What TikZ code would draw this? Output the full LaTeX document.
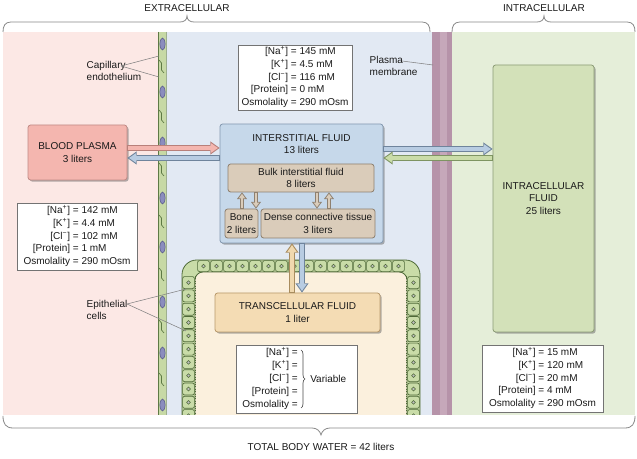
\documentclass[tikz,border=0pt]{standalone}
\usepackage{fontspec}
\setmainfont{Liberation Sans}
\usetikzlibrary{fit,shadows,arrows.meta,calc,decorations.pathreplacing}

\definecolor{txt}{HTML}{1A1A1A}
\definecolor{bgpink}{HTML}{FCE8E5}
\definecolor{bgblue}{HTML}{E2E9F3}
\definecolor{bggreen}{HTML}{E5EED9}
\definecolor{membr}{HTML}{B693A9}
\definecolor{membrlt}{HTML}{C6A8BA}
\definecolor{endo}{HTML}{C7D9A5}
\definecolor{endoln}{HTML}{5E7A45}
\definecolor{nuc}{HTML}{8B8DBE}
\definecolor{nucln}{HTML}{5A5C8A}
\definecolor{epi}{HTML}{C9DCA8}
\definecolor{epiln}{HTML}{4F6A38}
\definecolor{cream}{HTML}{FBF0DD}
\definecolor{bpfill}{HTML}{F4B6AF}
\definecolor{bpline}{HTML}{C08A85}
\definecolor{isfill}{HTML}{C6D8EA}
\definecolor{isline}{HTML}{8499B0}
\definecolor{tanfill}{HTML}{DACCBA}
\definecolor{tanline}{HTML}{8E8070}
\definecolor{tcfill}{HTML}{F4DCB4}
\definecolor{tcline}{HTML}{B8996B}
\definecolor{icfill}{HTML}{D3E1B9}
\definecolor{icline}{HTML}{8C9C76}
\definecolor{grline}{HTML}{8A8A8A}
\definecolor{bluearr}{HTML}{B8CCE2}
\definecolor{bluearrln}{HTML}{6F849C}
\definecolor{greenarr}{HTML}{CADCA8}
\definecolor{greenarrln}{HTML}{7E9462}
\definecolor{pinkarr}{HTML}{F4B6AF}
\definecolor{pinkarrln}{HTML}{B8807A}
\definecolor{tanarr}{HTML}{F0D8AE}
\definecolor{tanarrln}{HTML}{A88C5E}

\begin{document}
\begin{tikzpicture}[x=0.75pt,y=-0.75pt,
  every node/.style={font=\fontsize{7.5}{9.6}\selectfont, text=txt},
  bigbox/.style 2 args={fill=#1, draw=#2, line width=0.6pt, rounded corners=2pt, inner sep=0pt, align=center,
     drop shadow={shadow xshift=1.2pt, shadow yshift=-1.2pt, fill=black!60, opacity=0.5}},
  subbox/.style={fill=tanfill, draw=tanline, line width=0.6pt, rounded corners=2pt, inner sep=0pt, align=center},
  ionbox/.style={fill=white, draw=black!55, line width=0.5pt, inner sep=0pt},
  fat/.style 2 args={draw=#2, line width=4.5pt, -{Triangle[length=7pt,width=10pt,line width=0pt]},
     postaction={draw=#1, line width=2.8pt, shorten >=1.3pt, shorten <=0.6pt, -{Triangle[length=5pt,width=7pt,line width=0pt]}}},
  thin/.style 2 args={draw=#2, line width=3pt, -{Triangle[length=5pt,width=7.5pt,line width=0pt]},
     postaction={draw=#1, line width=1.6pt, shorten >=1.1pt, shorten <=0.6pt, -{Triangle[length=3.4pt,width=5pt,line width=0pt]}}},
  leader/.style={draw=black!50, line width=0.4pt},
  bracel/.style={draw=grline, line width=0.6pt},
  cell/.style={fill=epi, draw=epiln, line width=0.5pt, rounded corners=1.5pt},
  cnuc/.style={fill=black!25, draw=epiln, line width=0.4pt}
]
\useasboundingbox (0,0) rectangle (637,459);
\fill[white] (0,0) rectangle (637,459);

% backgrounds
\fill[bgpink] (3,32) rectangle (160,415);
\fill[bgblue] (160,32) rectangle (432,415);
\fill[membr] (432,32) rectangle (452,415);
\fill[membrlt] (440,32) rectangle (447,415);
\fill[bggreen] (452,32) rectangle (635,415);

% capillary endothelium strip
\fill[endo] (158,32) rectangle (167,415);
\draw[endoln, line width=0.6pt] (158.5,32) -- (158.5,415);
\draw[endoln!60, line width=0.4pt] (166.5,32) -- (166.5,415);
\foreach \y in {67,117,170,222,275,327,380} {
  \draw[endoln, line width=0.5pt] (159,\y-7) -- (161.5,\y-4) -- (161.5,\y+3) -- (164,\y+6);
}
\foreach \y in {44,92,143,198,247,302,353,405} {
  \filldraw[fill=nuc, draw=nucln, line width=0.4pt] (162.5,\y) ellipse (2.6 and 6);
}

% epithelium and transcellular space
\begin{scope}
\clip (0,0) rectangle (637,415);
\filldraw[fill=epi, draw=epiln, line width=0.6pt, rounded corners=11pt] (182,430) -- (182,260) -- (420,260) -- (420,430) -- cycle;
\filldraw[fill=cream, draw=epiln, line width=0.6pt, rounded corners=6pt] (195,430) -- (195,272) -- (407,272) -- (407,430) -- cycle;
\foreach \i in {0,...,15} {
  \pgfmathsetmacro\xx{197+13*\i}
  \path[cell] (\xx+0.6,260.6) rectangle (\xx+12.4,271.6);
  \path[cnuc] (\xx+6.5,266.1) circle (1.9);
}
\foreach \j in {0,...,10} {
  \pgfmathsetmacro\yy{276+13.3*\j}
  \path[cell] (182.6,\yy+0.6) rectangle (194.4,\yy+12.6);
  \path[cnuc] (188.5,\yy+6.6) circle (1.9);
  \path[cell] (407.6,\yy+0.6) rectangle (419.4,\yy+12.6);
  \path[cnuc] (413.5,\yy+6.6) circle (1.9);
}
\draw[epiln, line width=0.8pt, densely dotted] (195.6,276) -- (195.6,415);
\draw[epiln, line width=0.8pt, densely dotted] (406.4,276) -- (406.4,415);
\end{scope}

% ion boxes
\node[ionbox, fit={(238,45) (352,110)}] (ionis) {};
\node at (ionis.center) {\begin{tabular}{@{}r@{ = }l@{}}
{[Na\textsuperscript{+}]} & 145 mM\\
{[K\textsuperscript{+}]} & 4.5 mM\\
{[Cl\textsuperscript{−}]} & 116 mM\\
{[Protein]} & 0 mM\\
Osmolality & 290 mOsm
\end{tabular}};

\node[ionbox, fit={(17,203) (137,270)}] (ionbp) {};
\node at (ionbp.center) {\begin{tabular}{@{}r@{ = }l@{}}
{[Na\textsuperscript{+}]} & 142 mM\\
{[K\textsuperscript{+}]} & 4.4 mM\\
{[Cl\textsuperscript{−}]} & 102 mM\\
{[Protein]} & 1 mM\\
Osmolality & 290 mOsm
\end{tabular}};

\node[ionbox, fit={(482,345) (603,412)}] (ionic) {};
\node at (ionic.center) {\begin{tabular}{@{}r@{ = }l@{}}
{[Na\textsuperscript{+}]} & 15 mM\\
{[K\textsuperscript{+}]} & 120 mM\\
{[Cl\textsuperscript{−}]} & 20 mM\\
{[Protein]} & 4 mM\\
Osmolality & 290 mOsm
\end{tabular}};

\node[ionbox, fit={(236,345) (357,413)}] (iontc) {};
\node[anchor=east, inner sep=0pt] (tclab) at (298,379) {\begin{tabular}{@{}r@{}}
{[Na\textsuperscript{+}]} =\\
{[K\textsuperscript{+}]} =\\
{[Cl\textsuperscript{−}]} =\\
{[Protein]} =\\
Osmolality =
\end{tabular}};
\coordinate (brtop) at (301,350);
\coordinate (brbot) at (301,408);
\draw[draw=black!70, line width=0.5pt, decorate, decoration={brace, amplitude=3pt}] (brtop) -- (brbot);
\node[anchor=west, inner sep=0pt] (tcvar) at (310,379) {Variable};

% compartments
\node[bigbox={bpfill}{bpline}, fit={(28,125) (127,180)}] (bp) {};
\node at (bp.center) [align=center] {BLOOD PLASMA\\3 liters};

\node[bigbox={isfill}{isline}, fit={(220,124) (383,243)}] (isf) {};
\node[align=center] (isft) at (301.5,144) {INTERSTITIAL FLUID\\13 liters};
\node[subbox, fit={(228,164) (374,192)}] (bulk) {};
\node at (bulk.center) [align=center] {Bulk interstitial fluid\\8 liters};
\node[subbox, fit={(225,209) (258,238)}] (bone) {};
\node at (bone.center) [align=center] {Bone\\2 liters};
\node[subbox, fit={(261,209) (375,238)}] (dense) {};
\node at (dense.center) [align=center] {Dense connective tissue\\3 liters};

\node[bigbox={icfill}{icline}, fit={(493,65) (594,332)}] (icf) {};
\node at (icf.center) [align=center] {INTRACELLULAR\\FLUID\\25 liters};

\node[bigbox={tcfill}{tcline}, fit={(215,293) (380,332)}] (tcf) {};
\node at (tcf.center) [align=center] {TRANSCELLULAR FLUID\\1 liter};

% fat arrows
\coordinate (ya) at (0,148);
\coordinate (yb) at (0,158);
\coordinate (yc) at (0,149);
\coordinate (yd) at (0,158);
\coordinate (xa) at (292,0);
\coordinate (xb) at (302,0);
\draw[fat={pinkarr}{pinkarrln}] (bp.east |- ya) -- (isf.west |- ya);
\draw[fat={bluearr}{bluearrln}] (isf.west |- yb) -- (bp.east |- yb);
\draw[fat={bluearr}{bluearrln}] (isf.east |- yc) -- (icf.west |- yc);
\draw[fat={greenarr}{greenarrln}] (icf.west |- yd) -- (isf.east |- yd);
\draw[fat={tanarr}{tanarrln}] (tcf.north -| xa) -- (isf.south -| xa);
\draw[fat={bluearr}{bluearrln}] (isf.south -| xb) -- (tcf.north -| xb);

% small arrows inside interstitial fluid
\coordinate (sa) at (242,0);
\coordinate (sb) at (256,0);
\coordinate (sc) at (317,0);
\coordinate (sd) at (329,0);
\draw[thin={tanfill}{tanline}] (bone.north -| sa) -- (bulk.south -| sa);
\draw[thin={tanfill}{tanline}] (bulk.south -| sb) -- (bone.north -| sb);
\draw[thin={tanfill}{tanline}] (bulk.south -| sc) -- (dense.north -| sc);
\draw[thin={tanfill}{tanline}] (dense.north -| sd) -- (bulk.south -| sd);

% labels with leaders
\node[anchor=west, align=left] (capl) at (82,71) {Capillary\\endothelium};
\coordinate (capj) at (121,66);
\coordinate (cap1) at (159,56);
\coordinate (cap2) at (159,77);
\draw[leader] (capj) -- (cap1);
\draw[leader] (capj) -- (cap2);

\node[anchor=west, align=left] (pml) at (365,66) {Plasma\\membrane};
\coordinate (pmj) at (402,61);
\coordinate (pm1) at (433,65);
\draw[leader] (pmj) -- (pm1);

\node[anchor=west, align=left] (epl) at (82,310) {Epithelial\\cells};
\coordinate (epj) at (127,304);
\coordinate (ep1) at (186,289);
\coordinate (ep2) at (186,331);
\draw[leader] (epj) -- (ep1);
\draw[leader] (epj) -- (ep2);

% braces
\node (extra) at (187,8) {EXTRACELLULAR};
\draw[bracel] (3,32) .. controls (3,26) and (5,22) .. (11,22) -- (180,22)
  .. controls (184,22) and (187,20) .. (187,16) .. controls (187,20) and (190,22) .. (194,22)
  -- (422,22) .. controls (428,22) and (430,26) .. (430,32);
\node (intra) at (544,8) {INTRACELLULAR};
\draw[bracel] (452,32) .. controls (452,26) and (454,22) .. (460,22) -- (537,22)
  .. controls (541,22) and (544,20) .. (544,16) .. controls (544,20) and (547,22) .. (551,22)
  -- (627,22) .. controls (633,22) and (635,26) .. (635,32);
\draw[bracel] (3,416) .. controls (3,424) and (6,428) .. (13,428) -- (312,428)
  .. controls (317,428) and (320,431) .. (321,435) .. controls (322,431) and (325,428) .. (330,428)
  -- (625,428) .. controls (632,428) and (635,424) .. (635,416);
\node (total) at (321,447) {TOTAL BODY WATER = 42 liters};
\end{tikzpicture}
\end{document}
